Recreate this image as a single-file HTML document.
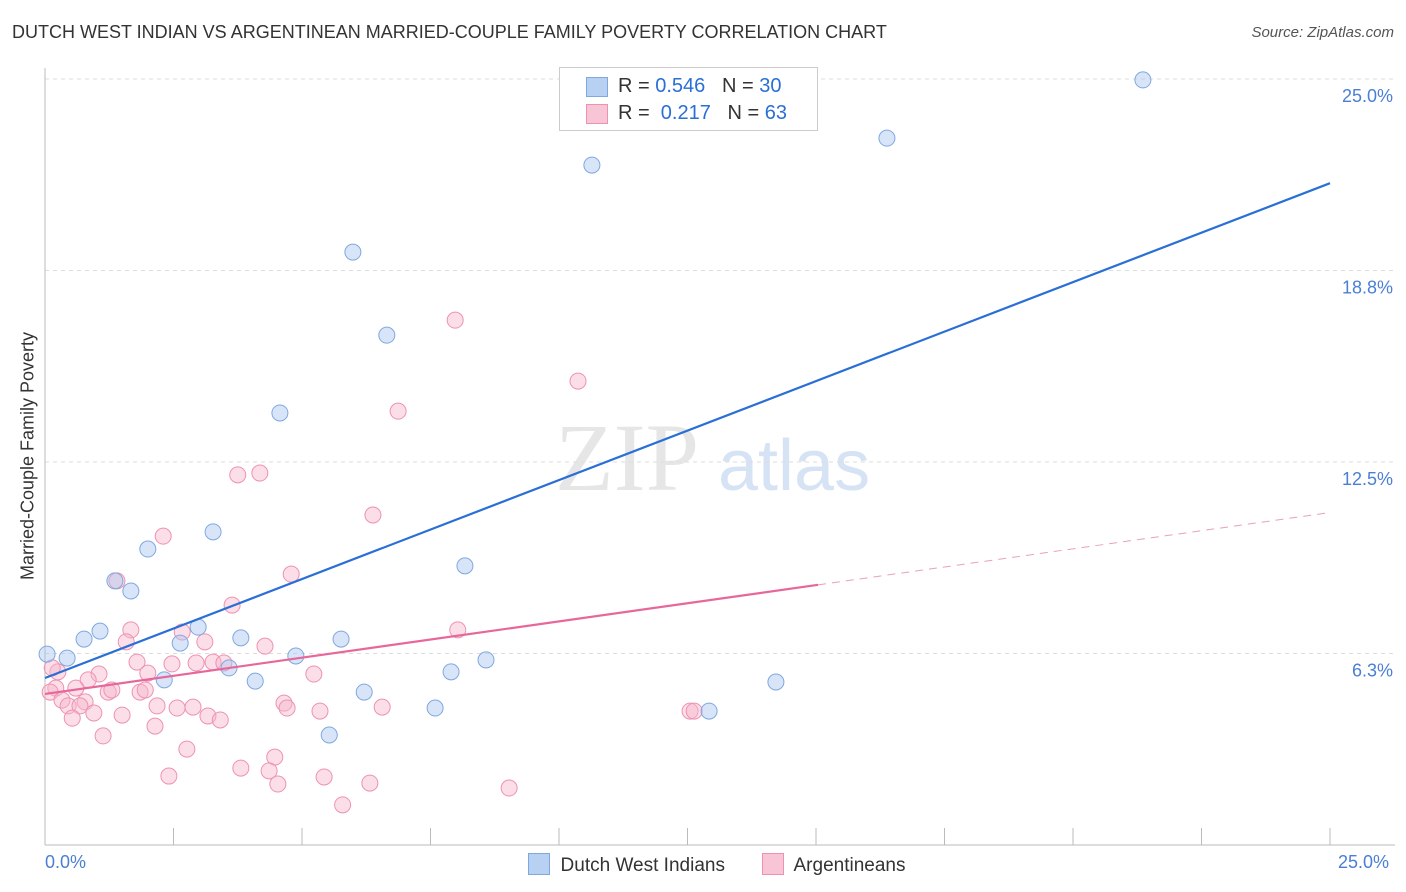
<!DOCTYPE html>
<html><head><meta charset="utf-8"><style>
body{margin:0;background:#fff;font-family:"Liberation Sans",sans-serif;}
#wrap{position:relative;width:1406px;height:892px;overflow:hidden;}
.t{position:absolute;white-space:nowrap;}
</style></head><body>
<div id="wrap">
<div class="t" style="left:12px;top:22px;font-size:18px;color:#333;">DUTCH WEST INDIAN VS ARGENTINEAN MARRIED-COUPLE FAMILY POVERTY CORRELATION CHART</div>
<div class="t" style="right:12px;top:24px;font-size:15px;color:#555;font-style:italic;">Source: ZipAtlas.com</div>
<svg id="svg" width="1406" height="892" style="position:absolute;left:0;top:0;"></svg>
</div>
<script>
const blueX=[21.36,16.38,10.64,5.99,6.65,4.57,3.27,2.00,1.36,1.67,8.17,1.07,0.76,0.43,0.04,2.98,2.63,3.81,5.76,4.88,3.58,2.32,4.09,7.90,8.58,6.21,7.59,5.53,12.92,14.22];
const blueY=[24.97,23.07,22.19,19.35,16.64,14.10,10.22,9.66,8.62,8.29,9.11,6.98,6.72,6.10,6.23,7.11,6.59,6.76,6.72,6.17,5.78,5.39,5.35,5.65,6.04,4.99,4.47,3.59,4.37,5.32];
const pinkX=[7.98,10.37,6.87,3.75,4.18,6.38,2.30,4.79,1.40,3.64,8.03,1.67,2.67,1.58,3.11,4.28,1.79,2.47,2.94,3.27,3.48,2.00,5.23,1.05,0.25,0.14,0.84,0.60,0.21,0.10,1.23,1.30,1.85,1.95,0.33,0.45,0.78,0.68,0.95,0.53,1.50,2.18,2.57,2.88,3.17,3.41,4.65,4.71,5.35,6.56,12.55,12.63,2.14,1.13,2.76,4.47,3.81,4.36,2.41,5.43,4.53,6.32,9.03,5.79];
const pinkY=[17.13,15.14,14.16,12.08,12.14,10.77,10.08,8.84,8.62,7.83,7.02,7.02,6.95,6.63,6.63,6.49,5.97,5.91,5.94,5.97,5.94,5.61,5.58,5.58,5.65,5.78,5.39,5.12,5.12,4.99,4.99,5.06,4.99,5.06,4.73,4.54,4.67,4.54,4.31,4.14,4.24,4.54,4.47,4.50,4.21,4.08,4.63,4.47,4.37,4.50,4.37,4.37,3.88,3.56,3.13,2.87,2.51,2.42,2.25,2.22,1.99,2.02,1.86,1.31];
const yTicks=[6.25,12.5,18.75,25];
const yTickLabels=["6.3%","12.5%","18.8%","25.0%"];
const blueLine=[5.45,21.6];
const pinkLine=[4.93,10.85];
const pinkSolidEnd=15.04;

const X=v=>45+v*51.4, Y=v=>845-v*30.64;
const svg=document.getElementById('svg');
const NS='http://www.w3.org/2000/svg';
function mk(tag,a){const e=document.createElementNS(NS,tag);for(const k in a)e.setAttribute(k,a[k]);svg.appendChild(e);return e;}
// watermark
let w=mk('text',{x:555,y:490,'font-size':96,'font-family':'Liberation Serif',fill:'#e6e6e6'});w.textContent='ZIP';


let w2=mk('text',{x:718,y:490,'font-size':72,'font-family':'Liberation Sans',fill:'#d6e3f5'});w2.textContent='atlas';


yTicks.forEach((v,i)=>{
 let g=mk('line',{x1:45,x2:1395,y1:Y(v),y2:Y(v),stroke:'#ddd','stroke-dasharray':'4,4'});
 
 
 let t=mk('text',{x:1393,y:Y(v)+23,'text-anchor':'end','font-size':18,fill:'#4a7fd4'});t.textContent=yTickLabels[i];
 
 
});
let ax=mk('line',{x1:45,x2:1395,y1:845,y2:845,stroke:'#bbb'});


let ay=mk('line',{x1:45,x2:45,y1:68,y2:845,stroke:'#bbb'});


for(let i=0;i<=10;i++){let t=mk('line',{x1:X(i*2.5),x2:X(i*2.5),y1:828,y2:845,stroke:'#bbb'});
 
 }
function pts(xs,ys,fill,stroke,name){xs.forEach((x,i)=>{let c=mk('circle',{cx:X(x),cy:Y(ys[i]),r:8,fill:fill,stroke:stroke,'stroke-width':1});
 
 });}
pts(pinkX,pinkY,'rgba(246,182,204,0.45)','#ee92b2','argentinean-point');
pts(blueX,blueY,'rgba(168,198,240,0.45)','#7fa8e0','dutch-west-indian-point');
let bl=mk('line',{x1:X(0),y1:Y(blueLine[0]),x2:X(25),y2:Y(blueLine[1]),stroke:'#2a6fd6','stroke-width':2.2});


const pAt=v=>pinkLine[0]+(pinkLine[1]-pinkLine[0])*v/25;
let pl=mk('line',{x1:X(0),y1:Y(pAt(0)),x2:X(pinkSolidEnd),y2:Y(pAt(pinkSolidEnd)),stroke:'#e8679a','stroke-width':2.2});


let pd=mk('line',{x1:X(pinkSolidEnd),y1:Y(pAt(pinkSolidEnd)),x2:X(25),y2:Y(pAt(25)),stroke:'#e8a0bc','stroke-width':1,'stroke-dasharray':'8,6'});


</script>
<div class="t" style="left:28px;top:456px;font-size:18px;color:#333;transform:translate(-50%,-50%) rotate(-90deg);">Married-Couple Family Poverty</div>
<div class="t" style="left:45px;top:852px;font-size:18px;color:#4a7fd4;">0.0%</div>
<div class="t" style="left:1338px;top:852px;font-size:18px;color:#4a7fd4;">25.0%</div>
<div style="position:absolute;left:559px;top:67px;width:257px;height:62px;border:1px solid #ccc;background:#fff;font-size:20px;">
 <div style="position:absolute;left:26px;top:9px;width:20px;height:18px;background:#b8d1f3;border:1px solid #7fa8e0;"></div>
 <div class="t" style="left:58px;top:7px;color:#333;">R = <span style="color:#2a6fd6">0.546</span>&nbsp;&nbsp;&nbsp;N = <span style="color:#2a6fd6">30</span></div>
 <div style="position:absolute;left:26px;top:36px;width:20px;height:18px;background:#f8c5d6;border:1px solid #ee92b2;"></div>
 <div class="t" style="left:58px;top:34px;color:#333;">R = &nbsp;<span style="color:#2a6fd6">0.217</span>&nbsp;&nbsp;&nbsp;N = <span style="color:#2a6fd6">63</span></div>
</div>
<div style="position:absolute;left:528px;top:853px;font-size:19px;color:#333;">
 <span style="display:inline-block;width:20px;height:20px;background:#b8d1f3;border:1px solid #7fa8e0;vertical-align:-4px;"></span>&nbsp; Dutch West Indians</div>
<div style="position:absolute;left:762px;top:853px;font-size:19px;color:#333;">
 <span style="display:inline-block;width:20px;height:20px;background:#f8c5d6;border:1px solid #ee92b2;vertical-align:-4px;"></span>&nbsp; Argentineans</div>
</body></html>
